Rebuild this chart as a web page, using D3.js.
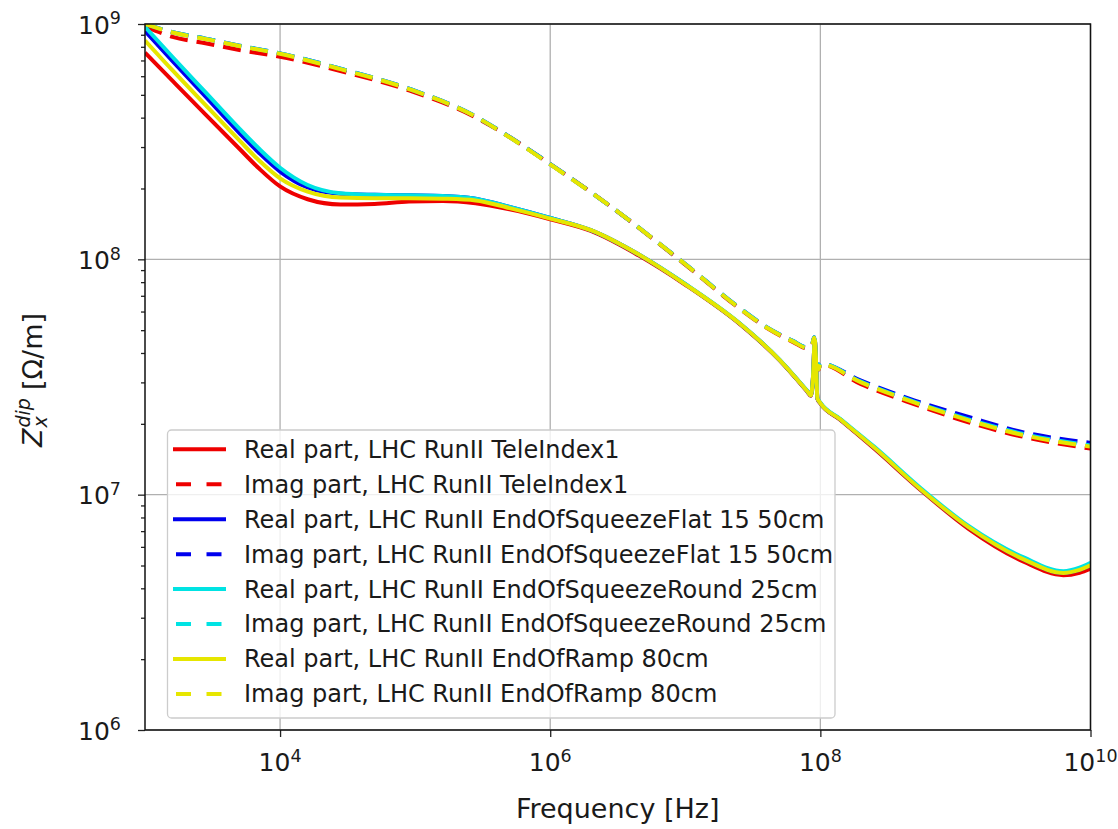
<!DOCTYPE html>
<html><head><meta charset="utf-8">
<script src="https://cdn.jsdelivr.net/npm/d3@7"></script>
<style>
body{margin:0;background:#fff;}
text{font-family:"DejaVu Sans",sans-serif;fill:#1a1a1a;}
</style>
</head><body>
<svg id="chart" width="1118" height="829"></svg>
<script>
// ---------- data ----------
const freqReal = [1e3,1.6e3,2.8e3,5e3,7e3,1e4,1.6e4,2.8e4,5e4,9e4,1.6e5,2.8e5,5e5,1e6,2e6,4.5e6,1e7,2.5e7,5e7,8e7,8.5e7,8.8e7,9.1e7,9.3e7,9.5e7,1e8,1.4e8,2.5e8,5.6e8,1.25e9,3.2e9,6.3e9,8.3e9,1e10];
const realTeleIndex1 = [7.55e8,5.73e8,4.13e8,2.95e8,2.43e8,2.04e8,1.80e8,1.71e8,1.72e8,1.76e8,1.77e8,1.73e8,1.63e8,1.48e8,1.32e8,1.04e8,7.80e7,5.34e7,3.72e7,2.74e7,2.63e7,3.08e7,4.50e7,3.61e7,2.56e7,2.44e7,2.08e7,1.57e7,1.04e7,7.16e6,5.19e6,4.55e6,4.66e6,4.84e6];
const realFlat15 = [9.33e8,6.95e8,4.92e8,3.44e8,2.83e8,2.36e8,2.02e8,1.90e8,1.88e8,1.87e8,1.86e8,1.81e8,1.67e8,1.50e8,1.33e8,1.05e8,7.84e7,5.36e7,3.73e7,2.75e7,2.64e7,3.09e7,4.52e7,3.63e7,2.57e7,2.45e7,2.09e7,1.585e7,1.047e7,7.28e6,5.31e6,4.65e6,4.79e6,5.01e6];
const realRound25 = [9.73e8,7.24e8,5.13e8,3.59e8,2.95e8,2.45e8,2.07e8,1.91e8,1.88e8,1.87e8,1.86e8,1.81e8,1.67e8,1.50e8,1.33e8,1.05e8,7.86e7,5.38e7,3.74e7,2.76e7,2.65e7,3.10e7,4.53e7,3.64e7,2.58e7,2.46e7,2.10e7,1.60e7,1.06e7,7.36e6,5.41e6,4.73e6,4.90e6,5.14e6];
const realRamp80 = [8.51e8,6.35e8,4.53e8,3.20e8,2.63e8,2.21e8,1.94e8,1.83e8,1.82e8,1.82e8,1.81e8,1.78e8,1.65e8,1.49e8,1.33e8,1.05e8,7.83e7,5.36e7,3.73e7,2.75e7,2.64e7,3.09e7,4.52e7,3.63e7,2.57e7,2.45e7,2.09e7,1.585e7,1.047e7,7.28e6,5.31e6,4.65e6,4.79e6,5.01e6];

const freqImag = [1e3,1.6e3,2.8e3,5e3,1e4,2.8e4,9e4,2.8e5,5e5,1e6,2.5e6,1e7,2.5e7,4e7,6.3e7,8e7,8.7e7,9e7,9.3e7,9.7e7,1e8,2e8,5e8,1.25e9,3.2e9,1e10];
const imagTeleIndex1 = [9.77e8,8.81e8,8.28e8,7.76e8,7.26e8,6.31e8,5.22e8,4.01e8,3.31e8,2.54e8,1.76e8,9.50e7,6.20e7,5.12e7,4.45e7,4.18e7,4.33e7,4.62e7,3.44e7,3.40e7,3.58e7,2.95e7,2.42e7,2.03e7,1.76e7,1.57e7];
const imagFlat15 = [1.00e9,9.23e8,8.67e8,8.09e8,7.50e8,6.46e8,5.31e8,4.05e8,3.31e8,2.54e8,1.76e8,9.55e7,6.24e7,5.15e7,4.49e7,4.22e7,4.37e7,4.66e7,3.47e7,3.43e7,3.61e7,3.05e7,2.51e7,2.14e7,1.84e7,1.66e7];
const imagRound25 = [1.00e9,9.23e8,8.67e8,8.09e8,7.50e8,6.46e8,5.31e8,4.05e8,3.31e8,2.54e8,1.76e8,9.55e7,6.24e7,5.15e7,4.49e7,4.22e7,4.37e7,4.66e7,3.47e7,3.43e7,3.61e7,3.02e7,2.48e7,2.09e7,1.81e7,1.62e7];
const imagRamp80 = [1.00e9,9.20e8,8.64e8,8.06e8,7.47e8,6.43e8,5.29e8,4.04e8,3.30e8,2.53e8,1.76e8,9.53e7,6.22e7,5.13e7,4.47e7,4.20e7,4.35e7,4.64e7,3.45e7,3.41e7,3.59e7,3.00e7,2.46e7,2.07e7,1.79e7,1.60e7];

const legendLabels = [
  "Real part, LHC RunII TeleIndex1",
  "Imag part, LHC RunII TeleIndex1",
  "Real part, LHC RunII EndOfSqueezeFlat 15 50cm",
  "Imag part, LHC RunII EndOfSqueezeFlat 15 50cm",
  "Real part, LHC RunII EndOfSqueezeRound 25cm",
  "Imag part, LHC RunII EndOfSqueezeRound 25cm",
  "Real part, LHC RunII EndOfRamp 80cm",
  "Imag part, LHC RunII EndOfRamp 80cm"
];
const colors = ["#ee0000","#0000ee","#00e3e3","#e6e600"];
const xTickValues = [1e4,1e6,1e8,1e10];
const yTickValues = [1e6,1e7,1e8,1e9];

// ---------- series table ----------
const seriesData = [
  {f:freqReal, v:realTeleIndex1, c:colors[0], dash:false},
  {f:freqImag, v:imagTeleIndex1, c:colors[0], dash:true},
  {f:freqReal, v:realFlat15, c:colors[1], dash:false},
  {f:freqImag, v:imagFlat15, c:colors[1], dash:true},
  {f:freqReal, v:realRound25, c:colors[2], dash:false},
  {f:freqImag, v:imagRound25, c:colors[2], dash:true},
  {f:freqReal, v:realRamp80, c:colors[3], dash:false},
  {f:freqImag, v:imagRamp80, c:colors[3], dash:true}
].map((s,i)=>Object.assign(s,{label:legendLabels[i]}));

// ---------- layout ----------
const L=145, R=1090.5, T=24, B=730;
const svg = d3.select("#chart");
const x = d3.scaleLog().domain([1e3,1e10]).range([L,R]);
const y = d3.scaleLog().domain([1e6,1e9]).range([B,T]);

svg.append("defs").append("clipPath").attr("id","clip")
  .append("rect").attr("x",L).attr("y",T).attr("width",R-L).attr("height",B-T);

// grid
const grid = svg.append("g");
grid.selectAll(".gx").data(xTickValues).join("line")
  .attr("x1",d=>x(d)).attr("x2",d=>x(d)).attr("y1",T).attr("y2",B)
  .attr("stroke","#b0b0b0").attr("stroke-width",1.3);
grid.selectAll(".gy").data(yTickValues).join("line")
  .attr("x1",L).attr("x2",R).attr("y1",d=>y(d)).attr("y2",d=>y(d))
  .attr("stroke","#b0b0b0").attr("stroke-width",1.3);

// lines
const line = d3.line().x(d=>x(d[0])).y(d=>y(d[1])).curve(d3.curveMonotoneX);
const lines = svg.append("g").attr("clip-path","url(#clip)");
seriesData.forEach(s=>{
  lines.append("path")
    .datum(s.f.map((f,i)=>[f,s.v[i]]))
    .attr("d",line)
    .attr("fill","none")
    .attr("stroke",s.c)
    .attr("stroke-width",4)
    .attr("stroke-linejoin","round")
    .attr("stroke-dasharray",s.dash?"18,9":null);
});

// axes
const xAxis = svg.append("g").attr("transform",`translate(0,${B})`)
  .call(d3.axisBottom(x).tickValues(xTickValues).tickSize(7).tickFormat(""));
const yAxis = svg.append("g").attr("transform",`translate(${L},0)`)
  .call(d3.axisLeft(y).tickValues(yTickValues).tickSize(7).tickFormat(""));
const minorVals = [];
[1e6,1e7,1e8].forEach(b=>{for(let k=2;k<=9;k++) minorVals.push(b*k);});
const yMinor = svg.append("g").attr("transform",`translate(${L},0)`)
  .call(d3.axisLeft(y).tickValues(minorVals).tickSize(4).tickFormat(""));
[xAxis,yAxis,yMinor].forEach(g=>{
  g.select(".domain").remove();
  g.selectAll(".tick line").attr("stroke","#222").attr("stroke-width",1.3);
});

// frame
svg.append("rect").attr("x",L).attr("y",T).attr("width",R-L).attr("height",B-T)
  .attr("fill","none").attr("stroke","#111").attr("stroke-width",1.5);

// tick labels
xTickValues.forEach(v=>{
  const e = Math.round(Math.log10(v));
  const t = svg.append("text").attr("x",x(v)).attr("y",771).attr("text-anchor","middle").attr("font-size",25);
  t.append("tspan").text("10");
  t.append("tspan").attr("font-size",17.5).attr("dy",-9.5).text(e);
});
yTickValues.forEach(v=>{
  const e = Math.round(Math.log10(v));
  const t = svg.append("text").attr("x",121).attr("y",y(v)+9.8).attr("text-anchor","end").attr("font-size",25);
  t.append("tspan").text("10");
  t.append("tspan").attr("font-size",17.5).attr("dy",-9.5).text(e);
});

// axis labels
svg.append("text").attr("x",(L+R)/2).attr("y",818).attr("text-anchor","middle")
  .attr("font-size",27).text("Frequency [Hz]");

const yl = svg.append("g").attr("transform","translate(42,447) rotate(-90)");
const zT = yl.append("text").attr("x",0).attr("y",0).attr("font-size",27).attr("font-style","italic").text("Z");
const zw = zT.node().getComputedTextLength();
const dipT = yl.append("text").attr("x",zw+1).attr("y",-12).attr("font-size",19).attr("font-style","italic").text("dip");
yl.append("text").attr("x",zw+1).attr("y",5).attr("font-size",19).attr("font-style","italic").text("x");
const dw = dipT.node().getComputedTextLength();
yl.append("text").attr("x",zw+1+dw+8).attr("y",0).attr("font-size",27).text("[Ω/m]");

// legend
const lg = svg.append("g");
lg.append("rect").attr("x",167.5).attr("y",430).attr("width",835-167.5).attr("height",718-430)
  .attr("rx",4).attr("fill","#fff").attr("fill-opacity",0.8).attr("stroke","#cccccc").attr("stroke-width",1.3);
seriesData.forEach((s,i)=>{
  const ry = 449.3 + i*34.95;
  if(s.dash){
    lg.append("line").attr("x1",176).attr("x2",222).attr("y1",ry).attr("y2",ry)
      .attr("stroke",s.c).attr("stroke-width",4).attr("stroke-dasharray","15,15.5");
  } else {
    lg.append("line").attr("x1",173).attr("x2",226).attr("y1",ry).attr("y2",ry)
      .attr("stroke",s.c).attr("stroke-width",4);
  }
  lg.append("text").attr("x",244).attr("y",ry+8.4).attr("font-size",24).text(s.label);
});
</script>
</body></html>
